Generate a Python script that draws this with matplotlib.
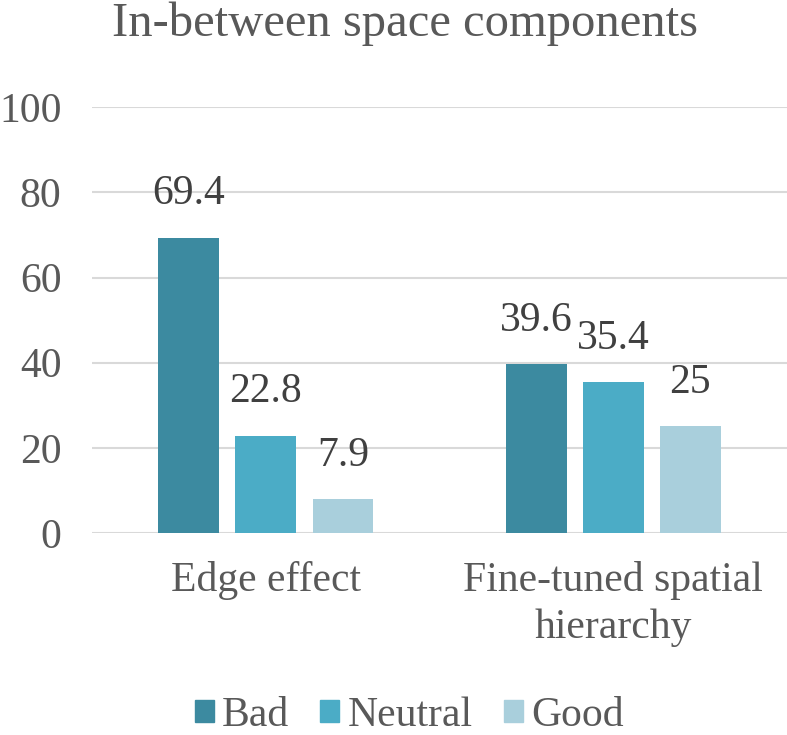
import numpy as np
import matplotlib.pyplot as plt
from matplotlib.patches import Patch

categories = ["Edge effect", "Fine-tuned spatial\nhierarchy"]
series = ["Bad", "Neutral", "Good"]
bad = [69.4, 39.6]
neutral = [22.8, 35.4]
good = [7.9, 25]
colors = ["#3C8AA0", "#4BACC6", "#A9CFDC"]


def main():
    plt.rcParams['font.family'] = ['Liberation Serif', 'DejaVu Serif']
    fig = plt.figure(figsize=(7.87, 7.35), dpi=100)
    ax = fig.add_axes([0.117, 0.275, 0.883, 0.579])

    x = np.arange(len(categories))
    width = 0.175
    step = 0.222
    for i, (vals, name) in enumerate(zip([bad, neutral, good], series)):
        pos = x + (i - 1) * step
        ax.bar(pos, vals, width, color=colors[i], label=name, zorder=3)
        for p, v in zip(pos, vals):
            ax.text(p, v + 10.3, f"{v:g}", ha='center', va='center',
                    fontsize=30, color='#404040')

    ax.set_xlim(-0.5, 1.5)
    ax.set_ylim(0, 100)
    ax.set_yticks(range(0, 101, 20))
    ax.yaxis.grid(True, color='#D9D9D9', linewidth=1.5, zorder=0)
    for s in ax.spines.values():
        s.set_visible(False)
    ax.tick_params(axis='both', length=0, labelsize=30, colors='#595959')
    ax.tick_params(axis='y', pad=22)
    ax.tick_params(axis='x', pad=20)
    ax.set_xticks(x)
    ax.set_xticklabels(categories, linespacing=1.3)

    fig.text(0.515, 0.968, "In-between space components", ha='center', va='center',
             fontsize=35, color='#595959')

    handles = [Patch(color=c) for c in colors]
    fig.legend(handles, series, loc='center', bbox_to_anchor=(0.52, 0.026),
               ncol=3, frameon=False, fontsize=30, labelcolor='#595959',
               handlelength=0.45, handleheight=0.45, handletextpad=0.2,
               columnspacing=0.75, borderpad=0.1)

    fig.savefig("out.png", dpi=100)


if __name__ == "__main__":
    main()
